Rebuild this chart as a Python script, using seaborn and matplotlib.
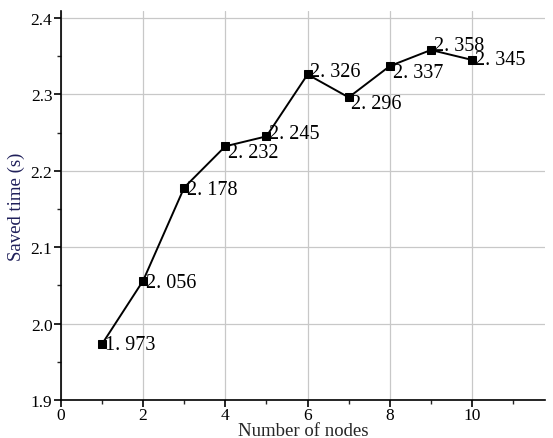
import matplotlib
matplotlib.use("Agg")
import matplotlib.pyplot as plt
import seaborn as sns
import pandas as pd
from matplotlib.ticker import MultipleLocator

nodes = [1, 2, 3, 4, 5, 6, 7, 8, 9, 10]
saved = [1.973, 2.056, 2.178, 2.232, 2.245, 2.326, 2.296, 2.337, 2.358, 2.345]
labels = ["1. 973", "2. 056", "2. 178", "2. 232", "2. 245", "2. 326", "2. 296", "2. 337", "2. 358", "2. 345"]

# per-label vertical nudge in points (layout only)
label_dy = [0, -1, -1.5, -4.5, 2, 2, -4.5, -4.5, 3, 0]

sns.set_theme(style="ticks")
plt.rcParams['font.family'] = ['Liberation Serif', 'DejaVu Serif']

df = pd.DataFrame({"nodes": nodes, "saved": saved})
fig = plt.figure(figsize=(5.53, 4.39), dpi=100)
ax = fig.add_axes([0.110, 0.0866, 0.876, 0.886])
sns.lineplot(data=df, x="nodes", y="saved", ax=ax, color="black", linewidth=1.4,
             marker="s", markersize=6, markeredgecolor="black", markerfacecolor="black")
for x, y, t, dy in zip(nodes, saved, labels, label_dy):
    ax.annotate(t, (x, y), xytext=(2, dy), textcoords="offset points",
                va="center", ha="left", fontsize=14.5, color="black")

ax.set_xlim(0, 11.78)
ax.set_ylim(1.9, 2.409)
ax.xaxis.set_major_locator(MultipleLocator(2))
ax.xaxis.set_minor_locator(MultipleLocator(1))
ax.yaxis.set_major_locator(MultipleLocator(0.1))
ax.yaxis.set_minor_locator(MultipleLocator(0.05))
ax.yaxis.set_major_formatter(matplotlib.ticker.FormatStrFormatter('%.1f'))
ax.grid(True, which="major", color="#c8c8c8", linewidth=0.9)
ax.set_axisbelow(True)
for s in ["top", "right"]:
    ax.spines[s].set_visible(False)
for s in ["left", "bottom"]:
    ax.spines[s].set_linewidth(1.2)
    ax.spines[s].set_color("black")
ax.tick_params(which="major", direction="out", length=5, width=1.2, labelsize=12.5, pad=1, colors="black")
ax.tick_params(axis="x", which="major", pad=0)
ax.tick_params(which="minor", direction="out", length=3, width=1.0)
ax.set_xlabel("Number of nodes", fontsize=13.5, labelpad=-1)
ax.set_ylabel("Saved time (s)", fontsize=13.5, color="#1f1f5a", labelpad=4)
fig.savefig("out.png", dpi=100)
